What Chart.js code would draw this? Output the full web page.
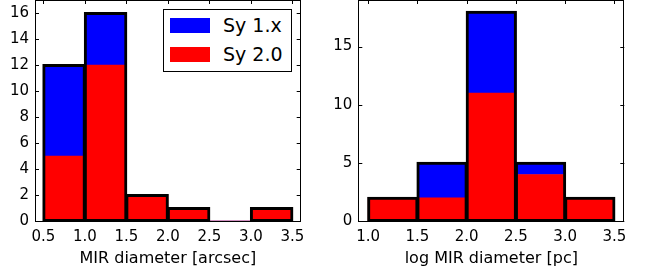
<!DOCTYPE html>
<html>
<head>
<meta charset="utf-8">
<script src="https://cdn.jsdelivr.net/npm/chart.js@4.4.1/dist/chart.umd.min.js"></script>
<style>
  body { margin: 0; background: #fff; width: 645px; height: 277px; overflow: hidden; position: relative; font-family: "DejaVu Sans", sans-serif; }
  canvas { position: absolute; top: 0; }
  #left { left: 0; }
  #right { left: 320px; }
  #legend { position: absolute; left: 163px; top: 9px; width: 127px; height: 61px; border: 1px solid #000; background: #fff; }
  .item { position: absolute; left: 6px; height: 15px; }
  .patch { position: absolute; left: 0; top: 0; width: 40px; height: 15px; }
  .lbl { position: absolute; left: 53px; top: -5px; font-size: 19px; line-height: 24px; color: #000; white-space: nowrap; }
</style>
</head>
<body>
<canvas id="left" width="320" height="277"></canvas>
<canvas id="right" width="325" height="277"></canvas>
<div id="legend">
  <div class="item" style="top: 8px"><div class="patch" style="background:#0000ff"></div><div class="lbl">Sy 1.x</div></div>
  <div class="item" style="top: 37px"><div class="patch" style="background:#ff0000"></div><div class="lbl">Sy 2.0</div></div>
</div>
<script>
const BLUE = '#0000ff';
const RED = '#ff0000';
const FONT = "DejaVu Sans";
const TICK = 4;

// left panel: MIR diameter [arcsec]
const leftEdges = [0.5, 1.0, 1.5, 2.0, 2.5, 3.0, 3.5];
const leftSy2 = [5, 12, 2, 1, 0, 1];
const leftSy1 = [7, 4, 0, 0, 0, 0];

// right panel: log MIR diameter [pc]
const rightEdges = [1.0, 1.5, 2.0, 2.5, 3.0, 3.5];
const rightSy2 = [2, 2, 11, 4, 2];
const rightSy1 = [0, 3, 7, 1, 0];

const centers = edges => edges.slice(0, -1).map((e, i) => (e + edges[i + 1]) / 2);
const points = (edges, vals) => centers(edges).map((c, i) => ({x: c, y: vals[i]}));
const totals = (a, b) => a.map((v, i) => v + b[i]);

// draws the box and the inward ticks on all four sides
const frameTicks = {
    id: 'frameTicks',
    afterDatasetsDraw(chart) {
        const {ctx, chartArea: a, scales: {x, y}} = chart;
        ctx.save();
        ctx.strokeStyle = '#000';
        ctx.lineWidth = 1;
        ctx.beginPath();
        x.ticks.forEach(t => {
            const px = Math.round(x.getPixelForValue(t.value)) + 0.5;
            ctx.moveTo(px, a.bottom); ctx.lineTo(px, a.bottom - TICK);
            ctx.moveTo(px, a.top); ctx.lineTo(px, a.top + TICK);
        });
        y.ticks.forEach(t => {
            const py = Math.round(y.getPixelForValue(t.value)) + 0.5;
            ctx.moveTo(a.left, py); ctx.lineTo(a.left + TICK, py);
            ctx.moveTo(a.right, py); ctx.lineTo(a.right - TICK, py);
        });
        ctx.stroke();
        ctx.strokeRect(Math.round(a.left) + 0.5, Math.round(a.top) + 0.5,
            Math.round(a.right - a.left) - 1, Math.round(a.bottom - a.top));
        ctx.restore();
    }
};

const makeHist = (id, edges, sy2, sy1, opt) => {
    return new Chart(document.getElementById(id), {
        type: 'bar',
        data: {
            datasets: [
                {
                    // black edge of each bin, roughly centred on the bin boundary (~3px)
                    label: 'outline',
                    data: points(edges, totals(sy2, sy1)),
                    stack: 'outline',
                    backgroundColor: 'rgba(0,0,0,0)',
                    borderColor: '#000',
                    borderWidth: 1,
                    inflateAmount: 1,
                    borderSkipped: false,
                    clip: {left: 5, top: 5, right: 5, bottom: 0}
                },
                {label: 'Sy 2.0', data: points(edges, sy2), stack: 'hist', backgroundColor: RED, borderWidth: 0},
                {label: 'Sy 1.x', data: points(edges, sy1), stack: 'hist', backgroundColor: BLUE, borderWidth: 0}
            ]
        },
        options: {
            responsive: false,
            animation: false,
            datasets: {bar: {grouped: false, categoryPercentage: 1, barPercentage: 1}},
            layout: {padding: {left: 0, right: opt.padRight, top: 0, bottom: 0}},
            plugins: {legend: {display: false}, tooltip: {enabled: false}},
            scales: {
                x: {
                    type: 'linear',
                    min: opt.xMin,
                    max: opt.xMax,
                    offset: false,
                    grid: {display: false, drawTicks: false},
                    border: {display: false},
                    ticks: {
                        stepSize: 0.5,
                        includeBounds: false,
                        padding: 7,
                        color: '#000',
                        font: {family: FONT, size: 15},
                        callback: v => v.toFixed(1)
                    },
                    title: {
                        display: true,
                        text: opt.title,
                        color: '#000',
                        font: {family: FONT, size: 16},
                        padding: {top: 4, bottom: 9}
                    },
                    afterFit: s => { s.height = 56; s.paddingLeft = 0; s.paddingRight = 0; }
                },
                y: {
                    stacked: true,
                    min: 0,
                    max: opt.yMax,
                    grid: {display: false, drawTicks: false},
                    border: {display: false},
                    ticks: {
                        stepSize: opt.yStep,
                        includeBounds: false,
                        padding: 6,
                        color: '#000',
                        font: {family: FONT, size: 15}
                    },
                    afterFit: s => { s.width = opt.yWidth; s.paddingTop = 0; s.paddingBottom = 0; }
                }
            }
        },
        plugins: [frameTicks]
    });
};

makeHist('left', leftEdges, leftSy2, leftSy1, {
    title: 'MIR diameter [arcsec]',
    xMin: 0.4, xMax: 3.6, yMax: 17, yStep: 2,
    yWidth: 35, padRight: 19.3
});

makeHist('right', rightEdges, rightSy2, rightSy1, {
    title: 'log MIR diameter [pc]',
    xMin: 0.9, xMax: 3.6, yMax: 19, yStep: 5,
    yWidth: 38.3, padRight: 20.7
});
</script>
</body>
</html>
